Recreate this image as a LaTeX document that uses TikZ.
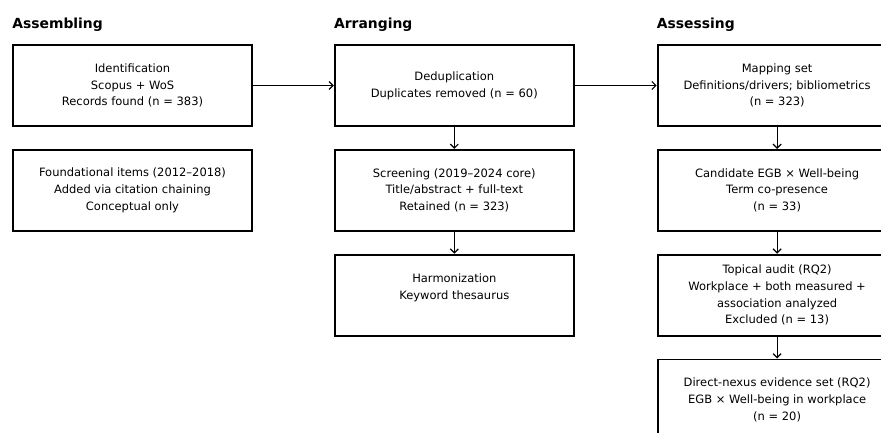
\documentclass[tikz,border=0pt]{standalone}
\usepackage{fontspec}
\setmainfont{DejaVu Sans}
\usepackage{tikz}
\usetikzlibrary{
  arrows.meta,
  positioning
}
\tikzstyle{stagebox} = [
  rectangle, draw=black, line width=1.8pt, fill=white,
  minimum width=239pt, minimum height=81pt, inner sep=0pt,
  align=center, font=\fontsize{11.5}{16.7}\selectfont
]
\tikzstyle{stagetitle} = [
  anchor=base west, inner sep=0pt, font=\fontsize{13.9}{16}\selectfont\bfseries
]
\tikzstyle{arrowstyle} = [-{Straight Barb[length=4pt,width=8pt]}, line width=1.2pt]

\begin{document}
\begin{tikzpicture}

\useasboundingbox (0,0) rectangle (881pt,-432pt);
\clip (0,0) rectangle (881pt,-432pt);

% --- Assembling ---
\node[stagebox] (ident) at (132.5pt,-85.5pt) {Identification\\Scopus + WoS\\Records found (n = 383)};
\node[stagebox, below=22pt of ident] (found) {Foundational items (2012--2018)\\Added via citation chaining\\Conceptual only};

% --- Arranging ---
\node[stagebox, right=81pt of ident] (dedup) {Deduplication\\Duplicates removed (n = 60)};
\node[stagebox, below=22pt of dedup] (screen) {Screening (2019--2024 core)\\Title/abstract + full-text\\Retained (n = 323)};
\node[stagebox, below=22pt of screen] (harmon) {Harmonization\\Keyword thesaurus\\~};

% --- Assessing ---
\node[stagebox, right=82pt of dedup] (mapping) {Mapping set\\Definitions/drivers; bibliometrics\\(n = 323)};
\node[stagebox, below=22pt of mapping] (cand) {Candidate EGB × Well-being\\Term co-presence\\(n = 33)};
\node[stagebox, below=22pt of cand] (audit) {Topical audit (RQ2)\\Workplace + both measured +\\association analyzed\\Excluded (n = 13)};
\node[stagebox, below=22pt of audit] (nexus) {Direct-nexus evidence set (RQ2)\\EGB × Well-being in workplace\\(n = 20)};

% --- Titles ---
\node[stagetitle] (tassem) at ([yshift=16pt]ident.north west) {Assembling};
\node[stagetitle] (tarran) at ([yshift=16pt]dedup.north west) {Arranging};
\node[stagetitle] (tasses) at ([yshift=16pt]mapping.north west) {Assessing};

% --- Arrows ---
\draw[arrowstyle] (ident) -- (dedup);
\draw[arrowstyle] (dedup) -- (mapping);
\draw[arrowstyle] (dedup) -- (screen);
\draw[arrowstyle] (screen) -- (harmon);
\draw[arrowstyle] (mapping) -- (cand);
\draw[arrowstyle] (cand) -- (audit);
\draw[arrowstyle] (audit) -- (nexus);

\end{tikzpicture}
\end{document}
